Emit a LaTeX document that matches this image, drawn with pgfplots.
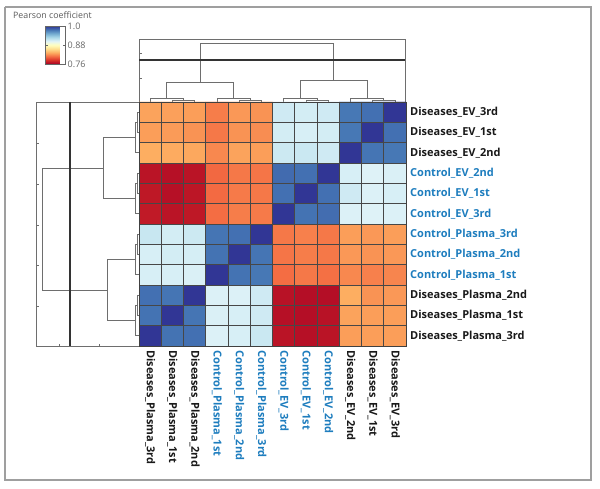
\documentclass[border=0pt]{standalone}
\usepackage{pgfplots}
\pgfplotsset{compat=1.18}
\usepackage{fontspec}
\setmainfont{Open Sans}
\definecolor{ctrl}{RGB}{30,125,190}
\definecolor{dis}{RGB}{25,25,25}
\definecolor{dgray}{RGB}{110,110,110}
\pgfplotsset{
  colormap={rdylbu}{rgb255(0)=(165,0,38) rgb255(1)=(215,48,39) rgb255(2)=(244,109,67) rgb255(3)=(253,174,97) rgb255(4)=(254,224,144) rgb255(5)=(255,255,191) rgb255(6)=(224,243,248) rgb255(7)=(171,217,233) rgb255(8)=(116,173,209) rgb255(9)=(69,117,180) rgb255(10)=(49,54,149)}
}
\newcommand{\C}[1]{\textcolor{ctrl}{#1}}
\newcommand{\D}[1]{\textcolor{dis}{#1}}

% y = row index counted from the top (0 = Diseases_EV_3rd)
\pgfplotstableread{
x y c
0 0 0.828
1 0 0.827
2 0 0.826
3 0 0.814
4 0 0.824
5 0 0.822
6 0 0.912
7 0 0.910
8 0 0.912
9 0 0.975
10 0 0.978
11 0 1.000
0 1 0.826
1 1 0.825
2 1 0.822
3 1 0.812
4 1 0.822
5 1 0.820
6 1 0.910
7 1 0.908
8 1 0.910
9 1 0.975
10 1 1.000
11 1 0.978
0 2 0.832
1 2 0.831
2 2 0.830
3 2 0.818
4 2 0.828
5 2 0.826
6 2 0.913
7 2 0.914
8 2 0.912
9 2 1.000
10 2 0.976
11 2 0.975
0 3 0.770
1 3 0.768
2 3 0.770
3 3 0.806
4 3 0.812
5 3 0.811
6 3 0.980
7 3 0.978
8 3 1.000
9 3 0.908
10 3 0.905
11 3 0.907
0 4 0.772
1 4 0.768
2 4 0.771
3 4 0.807
4 4 0.813
5 4 0.812
6 4 0.978
7 4 1.000
8 4 0.978
9 4 0.912
10 4 0.906
11 4 0.908
0 5 0.773
1 5 0.770
2 5 0.772
3 5 0.808
4 5 0.814
5 5 0.813
6 5 1.000
7 5 0.977
8 5 0.979
9 5 0.906
10 5 0.905
11 5 0.906
0 6 0.915
1 6 0.910
2 6 0.913
3 6 0.976
4 6 0.978
5 6 1.000
6 6 0.812
7 6 0.815
8 6 0.812
9 6 0.826
10 6 0.824
11 6 0.826
0 7 0.908
1 7 0.910
2 7 0.909
3 7 0.977
4 7 1.000
5 7 0.976
6 7 0.811
7 7 0.814
8 7 0.812
9 7 0.824
10 7 0.822
11 7 0.824
0 8 0.908
1 8 0.908
2 8 0.907
3 8 1.000
4 8 0.977
5 8 0.975
6 8 0.808
7 8 0.812
8 8 0.809
9 8 0.818
10 8 0.815
11 8 0.817
0 9 0.978
1 9 0.976
2 9 1.000
3 9 0.906
4 9 0.906
5 9 0.912
6 9 0.769
7 9 0.767
8 9 0.767
9 9 0.832
10 9 0.822
11 9 0.824
0 10 0.977
1 10 1.000
2 10 0.976
3 10 0.907
4 10 0.908
5 10 0.912
6 10 0.768
7 10 0.767
8 10 0.769
9 10 0.828
10 10 0.826
11 10 0.826
0 11 1.000
1 11 0.977
2 11 0.978
3 11 0.906
4 11 0.908
5 11 0.914
6 11 0.770
7 11 0.768
8 11 0.770
9 11 0.826
10 11 0.826
11 11 0.826
}\heat

\begin{document}
\begin{tikzpicture}
\path[use as bounding box] (0,0) rectangle (600pt,489pt);
\begin{axis}[name=canvas, at={(0pt,0pt)}, anchor=south west, scale only axis,
  width=600pt, height=489pt, xmin=0, xmax=600, ymin=0, ymax=489, y dir=reverse,
  hide axis, clip=false, no markers]
% outer frame
\addplot[gray!75, line width=1.2pt] coordinates {(5,7) (591,7) (591,480) (5,480) (5,7)};
% ---- top dendrogram ----
\addplot[dgray, line width=0.6pt] coordinates {(139,102) (139,39) (405,39) (405,102)};
\addplot[dgray, line width=0.5pt] coordinates {(139,53) (141.5,53)};
\addplot[dgray, line width=0.5pt] coordinates {(139,78) (141.5,78)};
\addplot[dgray, line width=0.7pt] coordinates {(172.4,102) (172.4,100.5) (194.6,100.5) (194.6,102)};
\addplot[dgray, line width=0.7pt] coordinates {(150.1,102) (150.1,98.5) (183.5,98.5) (183.5,100.5)};
\addplot[dgray, line width=0.7pt] coordinates {(239.1,102) (239.1,100.5) (261.4,100.5) (261.4,102)};
\addplot[dgray, line width=0.7pt] coordinates {(216.9,102) (216.9,98.5) (250.3,98.5) (250.3,100.5)};
\addplot[dgray, line width=0.7pt] coordinates {(305.9,102) (305.9,100.5) (328.1,100.5) (328.1,102)};
\addplot[dgray, line width=0.7pt] coordinates {(283.6,102) (283.6,98.5) (317.0,98.5) (317.0,100.5)};
\addplot[dgray, line width=0.7pt] coordinates {(372.6,102) (372.6,100.5) (394.9,100.5) (394.9,102)};
\addplot[dgray, line width=0.7pt] coordinates {(350.4,102) (350.4,98.5) (383.8,98.5) (383.8,100.5)};
\addplot[dgray, line width=0.7pt] coordinates {(166.8,98.5) (166.8,82) (233.6,82) (233.6,98.5)};
\addplot[dgray, line width=0.7pt] coordinates {(300.3,98.5) (300.3,80) (367.1,80) (367.1,98.5)};
\addplot[dgray, line width=0.7pt] coordinates {(200.2,82) (200.2,43) (333.7,43) (333.7,80)};
\addplot[black!80, line width=1.3pt] coordinates {(139,60) (405,60)};
% ---- left dendrogram ----
\addplot[dgray, line width=0.6pt] coordinates {(139,102) (36,102) (36,346) (139,346)};
\addplot[dgray, line width=0.5pt] coordinates {(36,143) (38.5,143)};
\addplot[dgray, line width=0.5pt] coordinates {(36,184) (38.5,184)};
\addplot[dgray, line width=0.5pt] coordinates {(36,225) (38.5,225)};
\addplot[dgray, line width=0.5pt] coordinates {(36,265) (38.5,265)};
\addplot[dgray, line width=0.5pt] coordinates {(36,306) (38.5,306)};
\addplot[dgray, line width=0.5pt] coordinates {(59,346) (59,343.5)};
\addplot[dgray, line width=0.5pt] coordinates {(99,346) (99,343.5)};
\addplot[dgray, line width=0.7pt] coordinates {(139,112.2) (137.5,112.2) (137.5,132.5) (139,132.5)};
\addplot[dgray, line width=0.7pt] coordinates {(137.5,122.3) (135.5,122.3) (135.5,152.8) (139,152.8)};
\addplot[dgray, line width=0.7pt] coordinates {(139,173.2) (137.5,173.2) (137.5,193.5) (139,193.5)};
\addplot[dgray, line width=0.7pt] coordinates {(137.5,183.3) (135.5,183.3) (135.5,213.8) (139,213.8)};
\addplot[dgray, line width=0.7pt] coordinates {(139,234.2) (137.5,234.2) (137.5,254.5) (139,254.5)};
\addplot[dgray, line width=0.7pt] coordinates {(137.5,244.3) (135.5,244.3) (135.5,274.8) (139,274.8)};
\addplot[dgray, line width=0.7pt] coordinates {(139,295.2) (137.5,295.2) (137.5,315.5) (139,315.5)};
\addplot[dgray, line width=0.7pt] coordinates {(137.5,305.3) (135.5,305.3) (135.5,335.8) (139,335.8)};
\addplot[dgray, line width=0.7pt] coordinates {(135.5,137.6) (103,137.6) (103,198.6) (135.5,198.6)};
\addplot[dgray, line width=0.7pt] coordinates {(135.5,259.6) (107,259.6) (107,320.6) (135.5,320.6)};
\addplot[dgray, line width=0.7pt] coordinates {(103,168.1) (42,168.1) (42,290.1) (107,290.1)};
\addplot[black!80, line width=1.3pt] coordinates {(70,102) (70,346)};
\node[anchor=west, inner sep=0pt, font=\fontsize{8.8}{10}\selectfont, text=black!65] at (axis cs:13,15) {Pearson coefficient};
\end{axis}

\begin{axis}[at={(139pt,143pt)}, anchor=south west, scale only axis,
  width=267pt, height=244pt,
  xmin=-0.5, xmax=11.5, ymin=-0.5, ymax=11.5, enlargelimits=false,
  y dir=reverse, axis on top,
  axis line style={draw=black!75, line width=0.6pt},
  xtick={0,...,11}, ytick={0,...,11},
  minor xtick={-0.5,0.5,...,11.5}, minor ytick={-0.5,0.5,...,11.5},
  xminorgrids=true, yminorgrids=true,
  minor grid style={black!72, line width=0.6pt},
  minor tick length=0pt,
  xticklabels={\D{Diseases\_Plasma\_3rd},\D{Diseases\_Plasma\_1st},\D{Diseases\_Plasma\_2nd},\C{Control\_Plasma\_1st},\C{Control\_Plasma\_2nd},\C{Control\_Plasma\_3rd},\C{Control\_EV\_3rd},\C{Control\_EV\_1st},\C{Control\_EV\_2nd},\D{Diseases\_EV\_2nd},\D{Diseases\_EV\_1st},\D{Diseases\_EV\_3rd}},
  yticklabels={\D{Diseases\_EV\_3rd},\D{Diseases\_EV\_1st},\D{Diseases\_EV\_2nd},\C{Control\_EV\_2nd},\C{Control\_EV\_1st},\C{Control\_EV\_3rd},\C{Control\_Plasma\_3rd},\C{Control\_Plasma\_2nd},\C{Control\_Plasma\_1st},\D{Diseases\_Plasma\_2nd},\D{Diseases\_Plasma\_1st},\D{Diseases\_Plasma\_3rd}},
  ytick pos=right, xtick pos=bottom, major tick length=0pt,
  tick label style={font=\fontsize{11}{13}\selectfont\bfseries},
  xticklabel style={rotate=-90, anchor=west, inner sep=4pt},
  yticklabel style={anchor=west, inner sep=4pt},
  colormap name=rdylbu,
  point meta min=0.76, point meta max=1.0,
  colorbar,
  colorbar style={at={(parent axis.north west)}, anchor=north west,
    xshift=-102pt, yshift=76pt,
    scale only axis, width=20pt, height=38pt,
    xminorgrids=false, yminorgrids=false,
    ytick={0.76,0.88,1.0}, yticklabels={0.76,0.88,1.0},
    yticklabel style={font=\fontsize{9}{10}\selectfont\mdseries, text=black!60, inner sep=2pt},
    major tick length=2.5pt, tick style={black!60},
    axis line style={draw=black!60, line width=0.5pt}},
]
\addplot[matrix plot*, mesh/cols=12, point meta=explicit] table[x=x, y=y, meta=c] {\heat};
\end{axis}
\end{tikzpicture}
\end{document}
